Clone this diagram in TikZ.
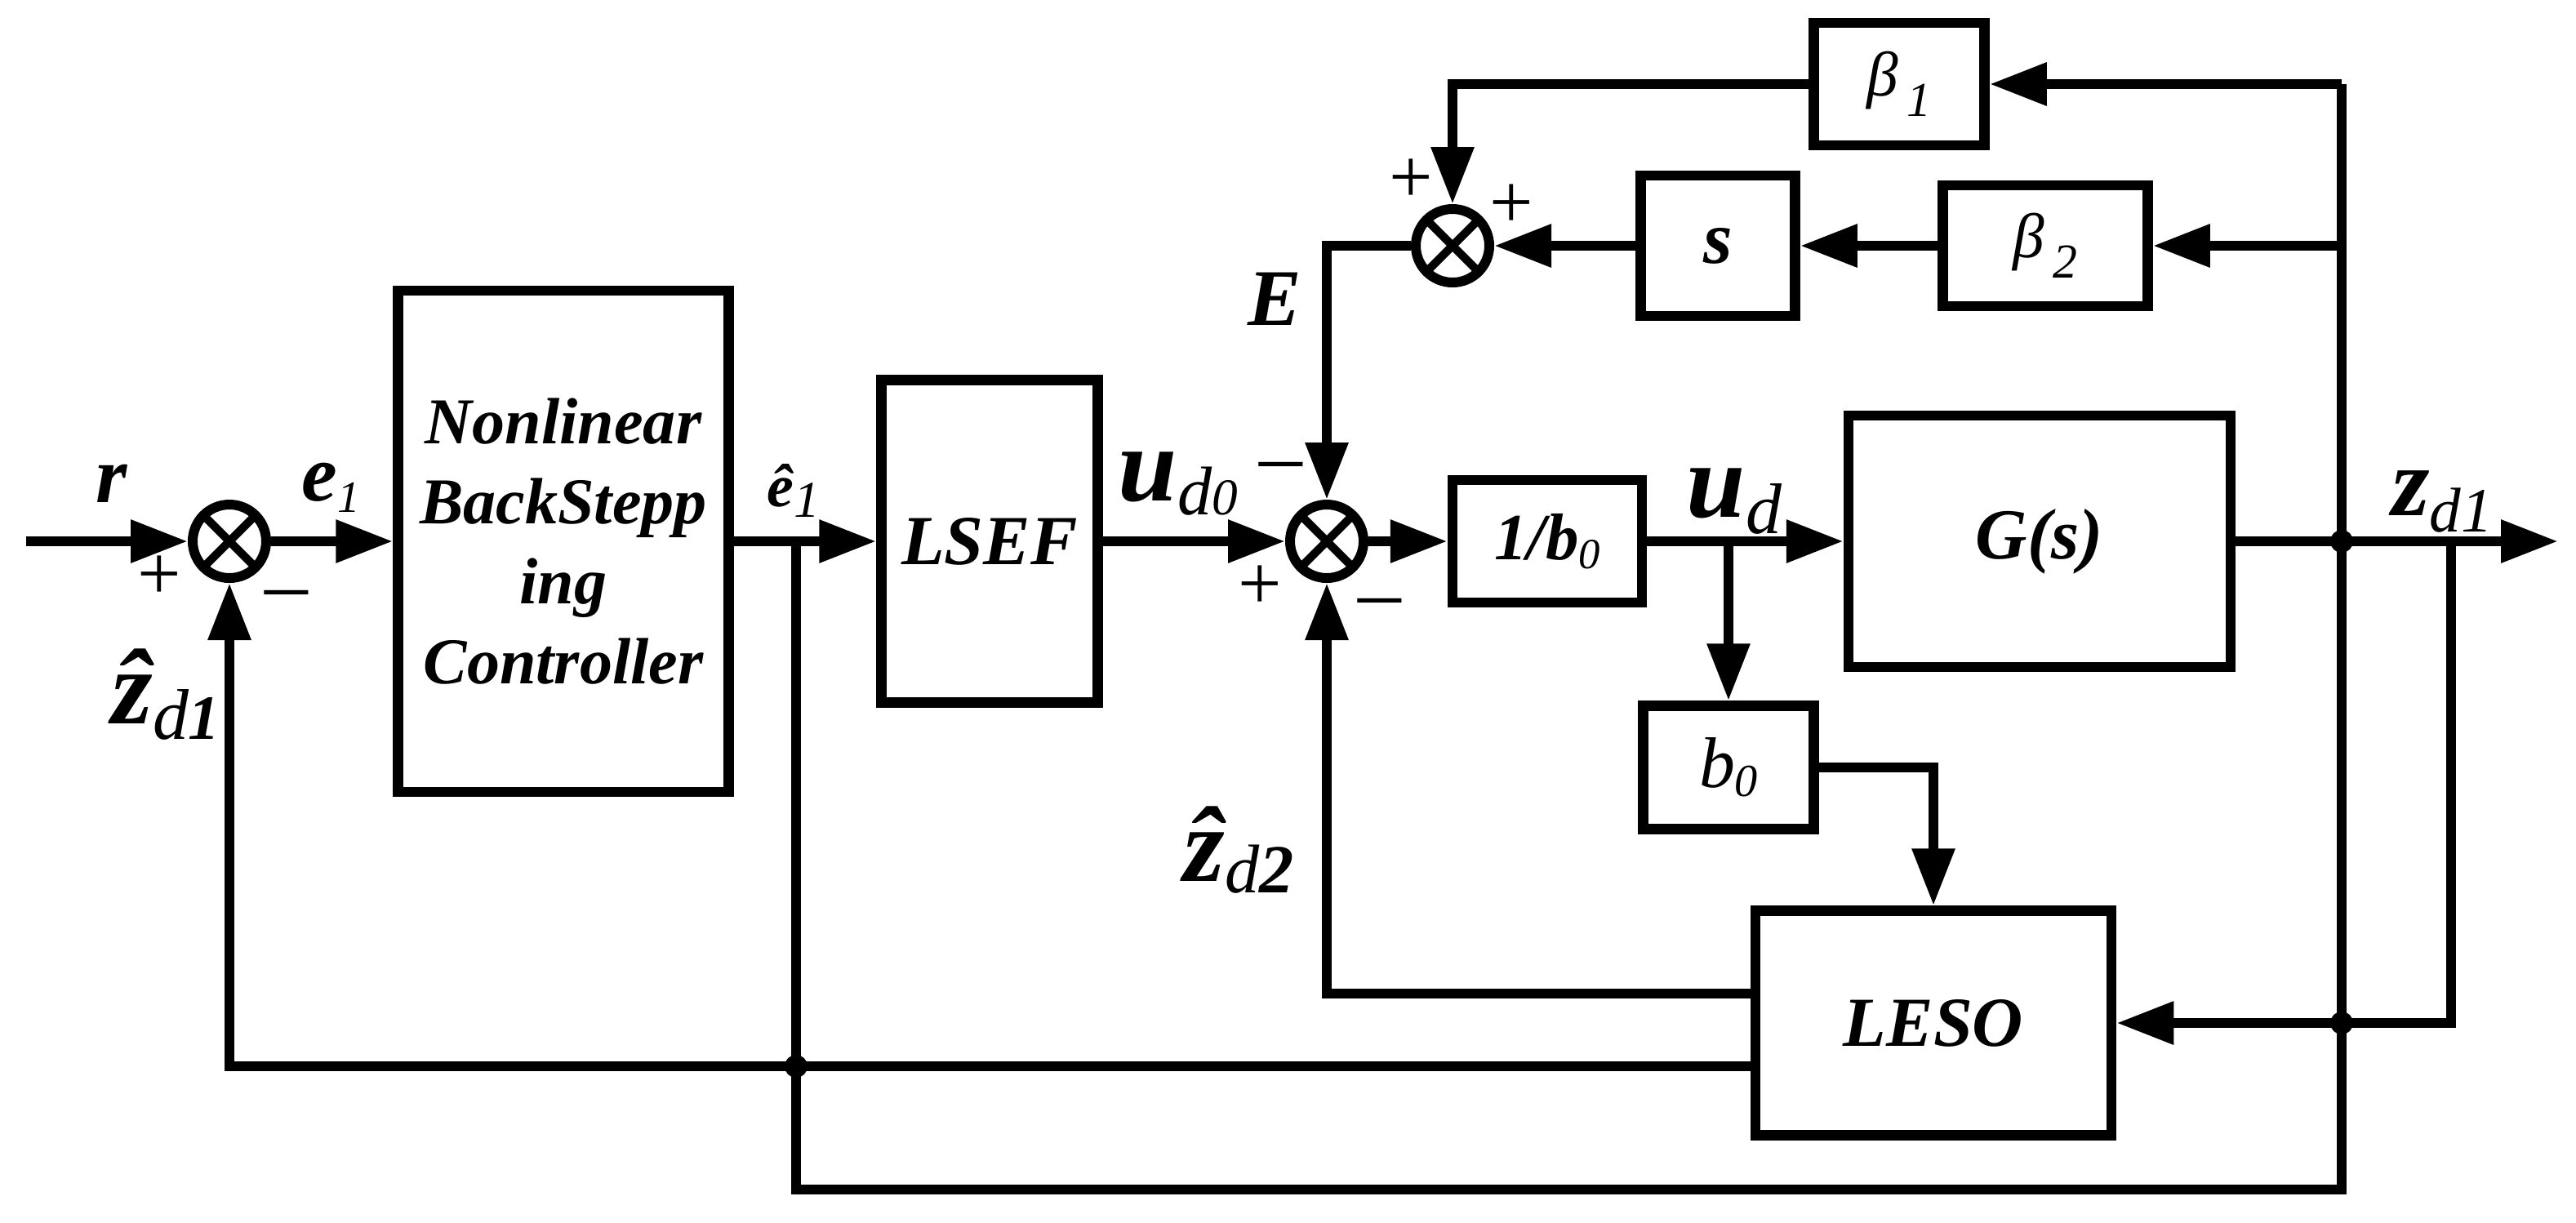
\documentclass[tikz,border=0pt]{standalone}
\usepackage{fontspec}
\setmainfont{Liberation Serif}
\usepackage{tikz}
\usetikzlibrary{arrows.meta,calc}
\newcommand{\fsz}[1]{\fontsize{#1}{#1}\selectfont}
\newcommand{\dsub}[3]{\raisebox{-#1}{\fsz{#2}#3}}

\begin{document}
\begin{tikzpicture}[
  blk/.style={draw,line width=1.25mm,inner sep=0pt,font=\fsz{24.5}\bfseries\itshape},
  sumnode/.style={draw,circle,line width=1.2mm,minimum size=9mm,inner sep=0pt,
    path picture={\draw[line width=1mm] (path picture bounding box.north west) -- (path picture bounding box.south east)
      (path picture bounding box.north east) -- (path picture bounding box.south west);}},
  wire/.style={line width=1.25mm},
  arr/.style={wire,-{Triangle[length=7mm,width=5mm]}},
  jdot/.style={circle,fill,inner sep=0pt,minimum size=2.8mm},
  lbl/.style={anchor=base,inner sep=0pt,font=\bfseries\itshape},
  sgn/.style={inner sep=0pt,font=\fsz{27}},
  mns/.style={inner sep=0pt,font=\fsz{30}}]

\fill[white] (0,0) rectangle (31.55,-14.97);
\useasboundingbox (0,0) rectangle (31.55,-14.97);

\node[sumnode] (sum1) at (2.81,-6.63) {};
\node[blk,minimum width=4.05cm,minimum height=6.14cm,align=center,font=\fontsize{22.8}{27.9}\selectfont\bfseries\itshape] (nbc) at (6.90,-6.63) {Nonlinear\\BackStepp\\ing\\Controller};
\node[blk,minimum width=2.65cm,minimum height=3.95cm] (lsef) at (12.12,-6.63) {LSEF};
\node[sumnode] (sum2) at (16.25,-6.63) {};
\node[blk,minimum width=2.32cm,minimum height=1.50cm,font=\fsz{23}\bfseries\itshape] (invb) at (18.95,-6.63) {1/b\dsub{1.1mm}{15}{\mdseries 0}};
\node[blk,minimum width=4.68cm,minimum height=3.08cm,font=\fsz{25}\bfseries\itshape] (plant) at (24.98,-6.63) {G(s)};
\node[blk,minimum width=2.09cm,minimum height=1.51cm,font=\fsz{25}\itshape] (b0box) at (21.17,-9.40) {b\dsub{1.1mm}{16}{0}};
\node[blk,minimum width=4.36cm,minimum height=2.75cm] (leso) at (23.68,-12.53) {LESO};
\node[sumnode] (sum3) at (17.79,-3.01) {};
\node[blk,minimum width=1.89cm,minimum height=1.72cm,font=\fsz{26}\bfseries\itshape] (sbox) at (21.04,-3.01) {s};
\node[blk,minimum width=2.09cm,minimum height=1.50cm,font=\fsz{22}\itshape] (beta1) at (23.26,-1.03) {β\hspace{1mm}\dsub{2.5mm}{17}{1}};
\node[blk,minimum width=2.51cm,minimum height=1.48cm,font=\fsz{22}\itshape] (beta2) at (25.05,-3.01) {β\hspace{1mm}\dsub{2.5mm}{17}{2}};

\coordinate (rin) at (0.32,-6.63);
\coordinate (eb) at (9.75,-6.63);
\coordinate (ub) at (21.17,-6.63);
\coordinate (zb) at (30.02,-6.63);
\coordinate (zout) at (31.33,-6.63);
\coordinate (tr) at (28.68,-1.03);
\coordinate (br) at (28.68,-14.57);

\draw[arr] (rin) -- (sum1.west);
\draw[arr] (sum1) -- (nbc);
\draw[arr] (nbc) -- (lsef);
\draw[arr] (lsef) -- (sum2);
\draw[arr] (sum2) -- (invb);
\draw[arr] (invb) -- (plant);
\draw[arr] (plant) -- (zout);
\draw[arr] (ub) -- (b0box);
\draw[arr] (b0box) -| (leso);
\draw[arr] (zb) |- (leso);
\draw[wire] (eb) |- (br) -- (tr);
\draw[arr] (tr) -- (beta1);
\draw[arr] (tr |- beta2) -- (beta2);
\draw[arr] (beta2) -- (sbox);
\draw[arr] (sbox) -- (sum3);
\draw[arr] (beta1) -| (sum3);
\draw[arr] (sum3) -| (sum2);
\draw[arr] ([yshift=3.6mm]leso.west) -| (sum2);
\draw[arr] ([yshift=-5.3mm]leso.west) -| (sum1);

\node[jdot] (j1) at (eb |- 0,-13.06) {};
\node[jdot] (j2) at (tr |- plant) {};
\node[jdot] (j3) at (tr |- leso) {};

\node[lbl] (lr) at (1.37,-6.15) {\fsz{28}r};
\node[lbl] (le1) at (4.05,-6.13) {\fsz{28}e\dsub{1.4mm}{15.6}{\mdseries 1}};
\node[lbl] (lhe1) at (9.72,-6.20) {\fsz{21}ê\dsub{1.3mm}{18}{\mdseries 1}};
\node[lbl] (lud0) at (14.43,-6.13) {\fsz{37}u\dsub{1.7mm}{24}{\mdseries d}\dsub{1.7mm}{18}{\mdseries 0}};
\node[lbl] (lE) at (15.61,-3.98) {\fsz{28}E};
\node[lbl] (lud) at (21.24,-6.33) {\fsz{37}u\dsub{2mm}{25}{\mdseries d}};
\node[lbl] (lzd1) at (29.91,-6.31) {\fsz{34}z\dsub{2mm}{22}{\mdseries d1}};
\node[lbl] (lhz1) at (2.03,-8.86) {\fsz{37}\^{z}\dsub{1.9mm}{25}{\mdseries d}\dsub{1.9mm}{22}{1}};
\node[lbl] (lhz2) at (15.17,-10.79) {\fsz{37}\^{z}\dsub{1.4mm}{24}{\mdseries d}\dsub{1.4mm}{24}{2}};

\node[sgn] (p11) at (1.95,-7.08) {+};
\node[mns] (m12) at (3.51,-7.37) {–};
\node[mns] (m21) at (15.69,-5.80) {–};
\node[sgn] (p22) at (15.43,-7.20) {+};
\node[mns] (m23) at (16.90,-7.47) {–};
\node[sgn] (p31) at (17.28,-2.22) {+};
\node[sgn] (p32) at (18.51,-2.53) {+};
\end{tikzpicture}
\end{document}
